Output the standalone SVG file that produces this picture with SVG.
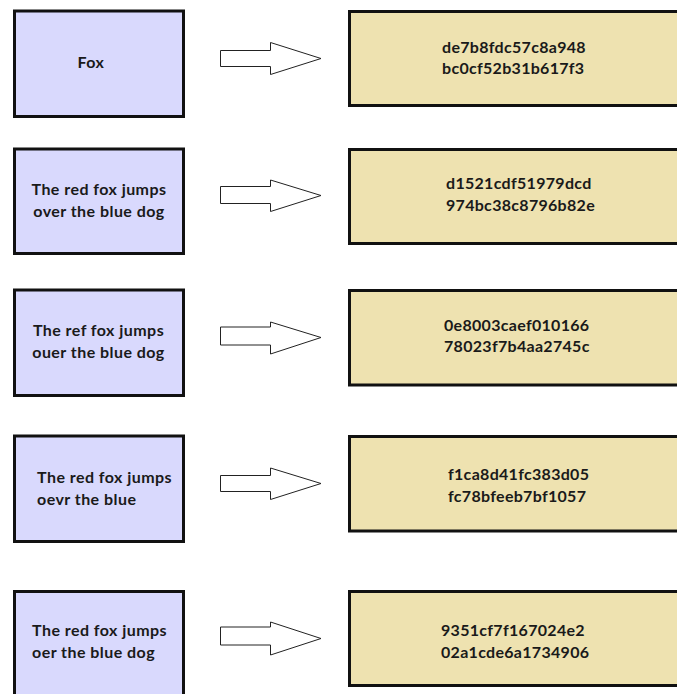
<svg xmlns="http://www.w3.org/2000/svg" width="677" height="694" viewBox="0 0 677 694">
  <style>
    .src rect { fill: #d9d9fd; stroke: #111; stroke-width: 3; }
    .dst rect { fill: #eee2b0; stroke: #111; stroke-width: 3; }
    text { font-family: Lato, "Liberation Sans", sans-serif; font-weight: bold; font-size: 16px; fill: #1a1a1a; }
    .src text { letter-spacing: 0.45px; }
    .dst text { letter-spacing: 0.3px; }
    .mid { text-anchor: middle; }
    .arrow { fill: #fff; stroke: #222; stroke-width: 1; stroke-linejoin: miter; }
  </style>
  <rect width="677" height="694" fill="#fff"/>

  <!-- input messages -->
  <g id="src1" class="src">
    <rect x="14.5" y="11" width="169" height="105.5"/>
    <text x="91" y="68" class="mid">Fox</text>
  </g>
  <g id="src2" class="src">
    <rect x="14.5" y="149" width="169" height="104.5"/>
    <text x="99" y="195" class="mid">The red fox jumps</text>
    <text x="99" y="217" class="mid">over the blue dog</text>
  </g>
  <g id="src3" class="src">
    <rect x="14.5" y="290" width="169" height="105.5"/>
    <text x="98.5" y="336" class="mid">The ref fox jumps</text>
    <text x="98.5" y="358" class="mid">ouer the blue dog</text>
  </g>
  <g id="src4" class="src">
    <rect x="14.5" y="436" width="169" height="105.5"/>
    <text x="37" y="483">The red fox jumps</text>
    <text x="37" y="505">oevr the blue</text>
  </g>
  <g id="src5" class="src">
    <rect x="14.5" y="591.5" width="169" height="110"/>
    <text x="32" y="636">The red fox jumps</text>
    <text x="32" y="658">oer the blue dog</text>
  </g>

  <!-- hash outputs -->
  <g id="dst1" class="dst">
    <rect x="349.5" y="11.5" width="340" height="94"/>
    <text x="442" y="53">de7b8fdc57c8a948</text>
    <text x="442" y="74">bc0cf52b31b617f3</text>
  </g>
  <g id="dst2" class="dst">
    <rect x="349.5" y="149.5" width="340" height="94"/>
    <text x="446" y="189">d1521cdf51979dcd</text>
    <text x="446" y="211">974bc38c8796b82e</text>
  </g>
  <g id="dst3" class="dst">
    <rect x="349.5" y="290.5" width="340" height="94.5"/>
    <text x="444" y="330.5">0e8003caef010166</text>
    <text x="444" y="352">78023f7b4aa2745c</text>
  </g>
  <g id="dst4" class="dst">
    <rect x="349.5" y="436.5" width="340" height="94.5"/>
    <text x="448" y="480">f1ca8d41fc383d05</text>
    <text x="448" y="501.5">fc78bfeeb7bf1057</text>
  </g>
  <g id="dst5" class="dst">
    <rect x="349.5" y="591.5" width="340" height="94"/>
    <text x="441" y="636">9351cf7f167024e2</text>
    <text x="441" y="657.5">02a1cde6a1734906</text>
  </g>

  <!-- block arrows from each message to its hash -->
  <g id="connectors">
    <path class="arrow" d="M220.5 50.5 H270.5 V42.5 L321 58.5 L270.5 74.5 V66.5 H220.5 Z"/>
    <path class="arrow" d="M220.5 186.5 H270.5 V180 L321 195.5 L270.5 211.5 V203.5 H220.5 Z"/>
    <path class="arrow" d="M220.5 327 H270.5 V322 L321 337.5 L270.5 354 V345 H220.5 Z"/>
    <path class="arrow" d="M220.5 475.5 H270.5 V468 L321 483.5 L270.5 499.5 V491.5 H220.5 Z"/>
    <path class="arrow" d="M220.5 627 H270.5 V622 L321 638.5 L270.5 655 V645 H220.5 Z"/>
  </g>
</svg>
